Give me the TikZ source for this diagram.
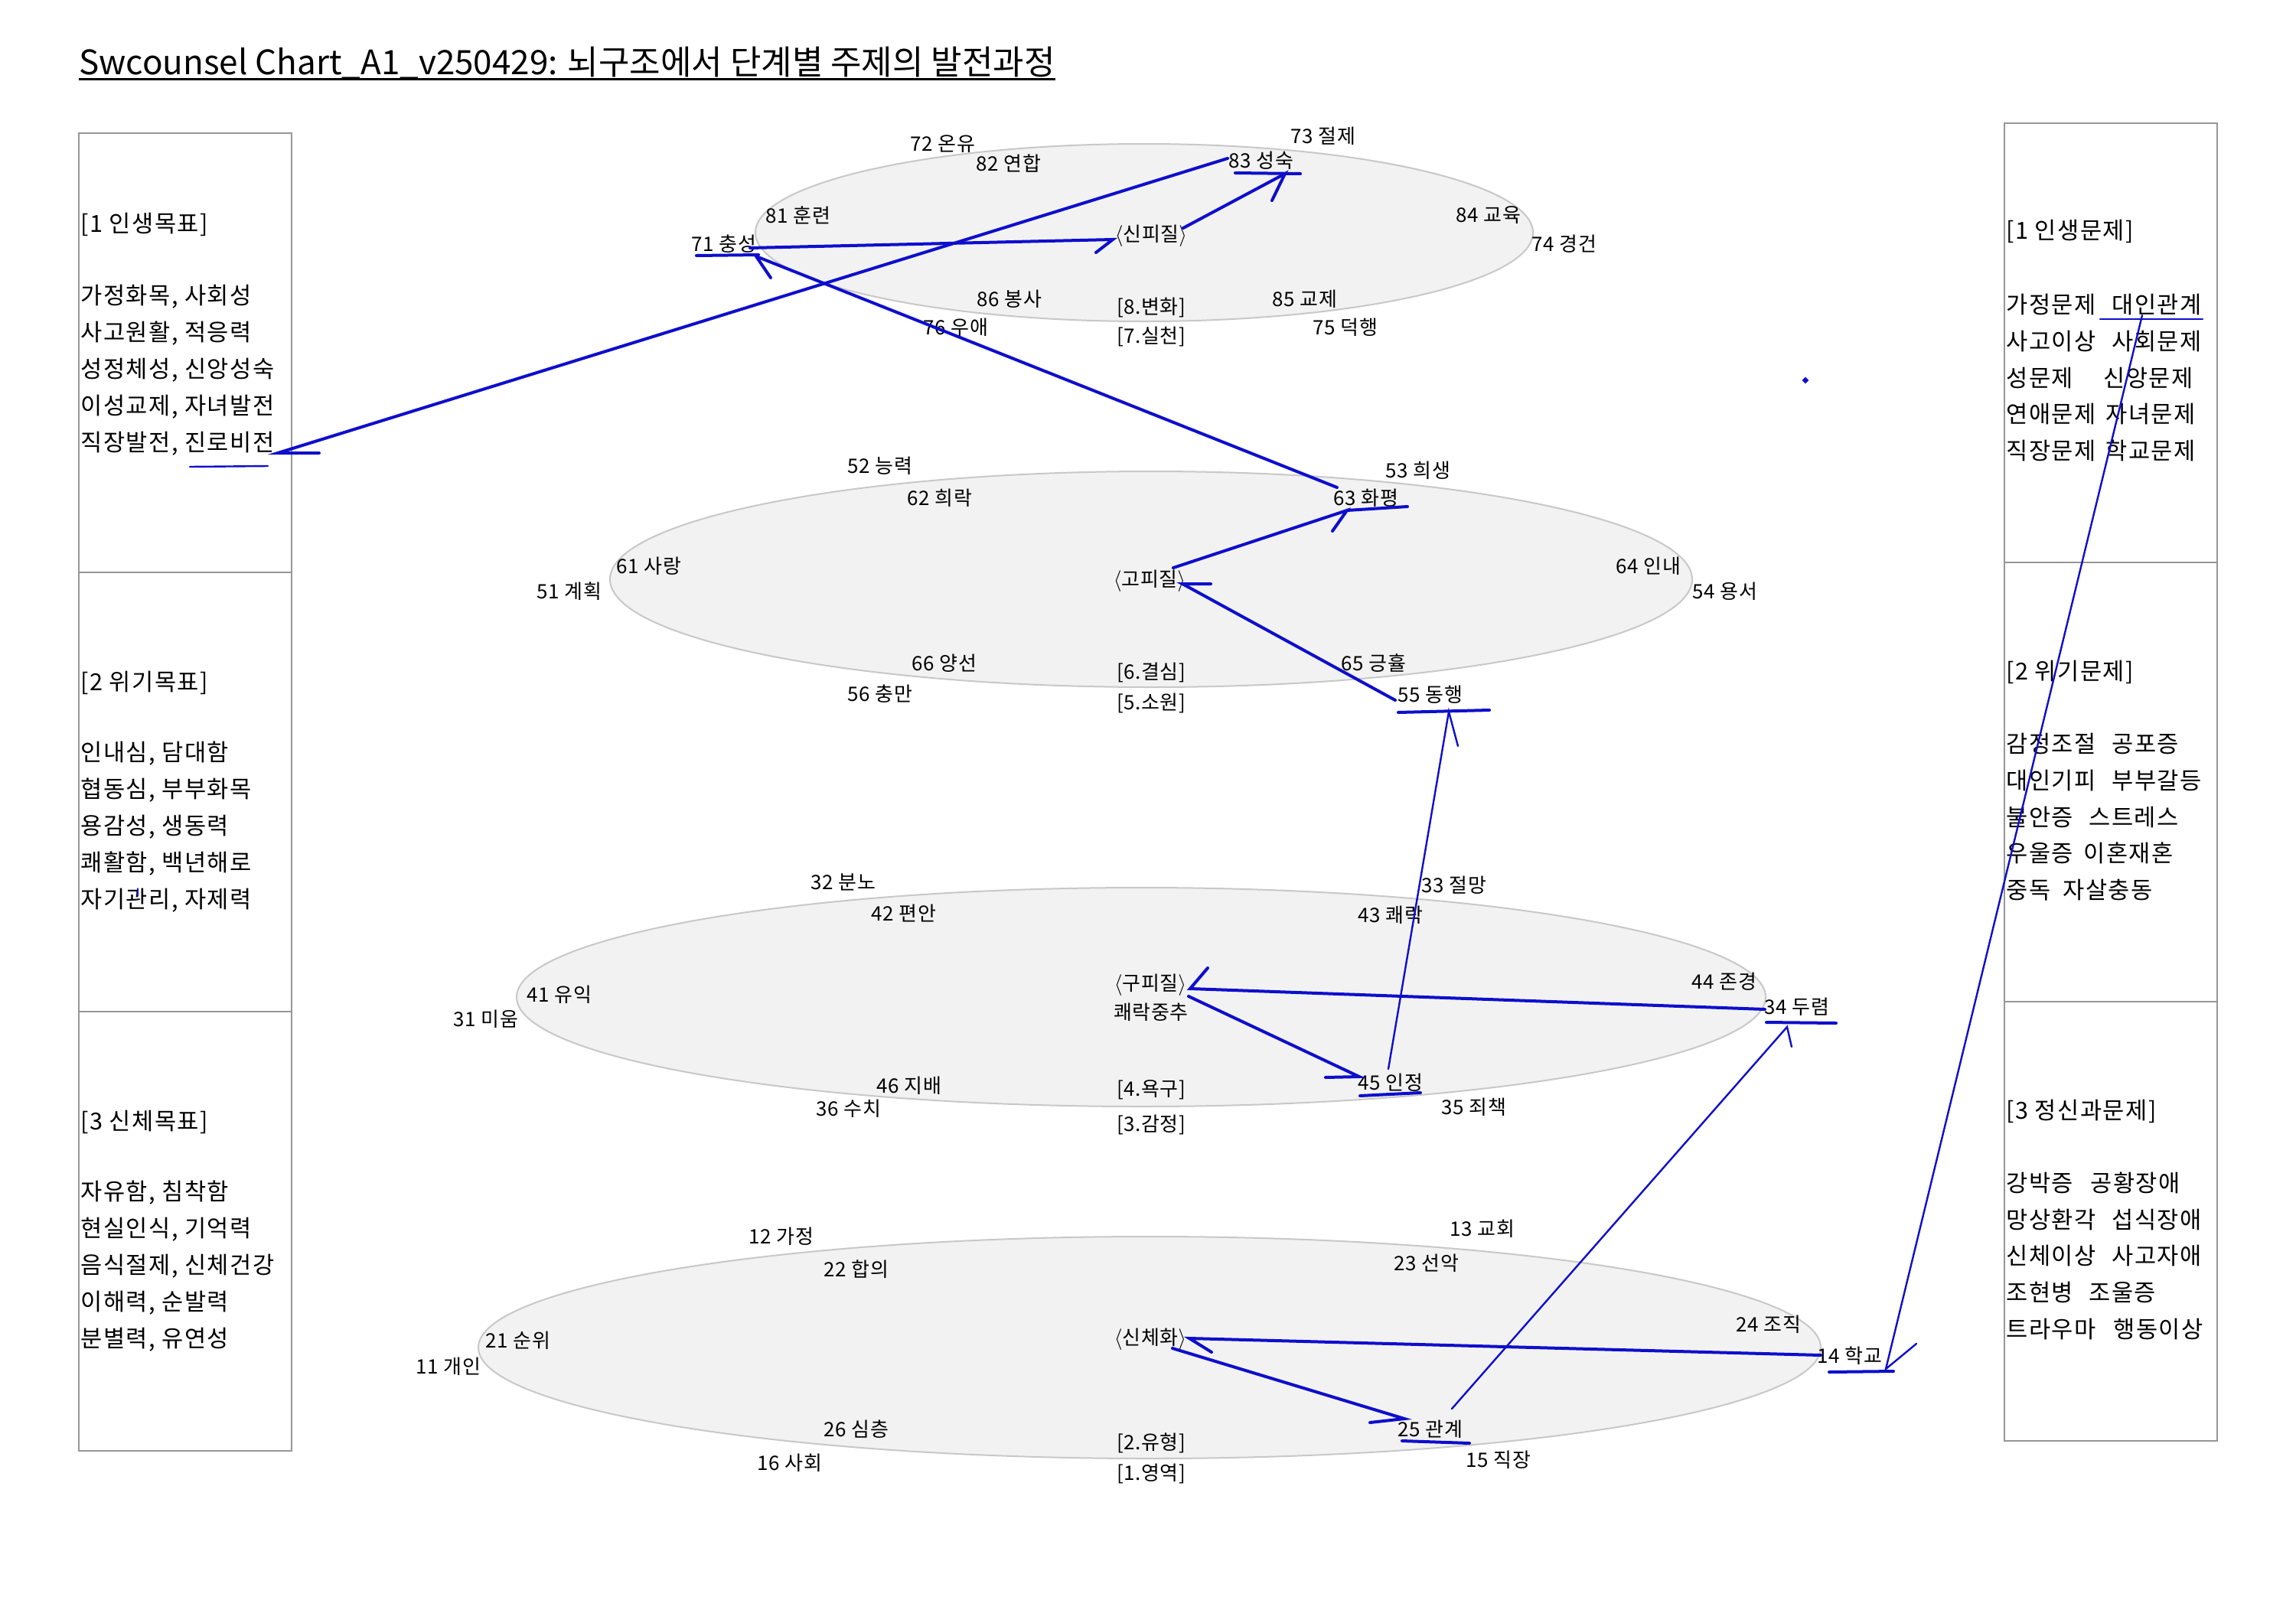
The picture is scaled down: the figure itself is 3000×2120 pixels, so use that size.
\documentclass[tikz,border=0pt]{standalone}
\usepackage{fontspec}
\setmainfont{Noto Sans CJK KR}
\newfontfamily\boxfont[LetterSpace=5]{Noto Sans CJK KR}
\newfontfamily\lblfont[LetterSpace=2]{Noto Sans CJK KR}
\definecolor{pen}{RGB}{14,14,205}
\definecolor{ellfill}{RGB}{242,242,242}
\definecolor{elldraw}{RGB}{200,200,200}
\definecolor{boxline}{RGB}{150,150,150}
\begin{document}
\begin{tikzpicture}[x=0.75pt,y=-0.75pt,
  lbl/.style={inner sep=0pt, font=\lblfont\fontsize{19.5pt}{22pt}\selectfont},
  boxtxt/.style={inner sep=0pt, anchor=west, font=\boxfont\fontsize{23pt}{26pt}\selectfont},
  ring/.style={fill=ellfill, draw=elldraw, line width=1.5pt},
  frame/.style={draw=boxline, line width=2pt},
  divider/.style={draw=boxline, line width=1pt},
  pen/.style={draw=pen, line width=3pt, line cap=round},
  thinpen/.style={draw=pen, line width=1.8pt, line cap=round}]
\useasboundingbox (0,0) rectangle (3000,2120);
\fill[white] (0,0) rectangle (3000,2120);

% title
\node[anchor=west, inner sep=0pt, font=\fontsize{33pt}{36pt}\selectfont] (title) at (103,82)
  {Swcounsel Chart\_A1\_v250429: 뇌구조에서 단계별 주제의 발전과정};
\coordinate (tu1) at ([yshift=-5pt]title.base west);
\coordinate (tu2) at ([yshift=-5pt]title.base east);
\draw[line width=2pt] (tu1) -- (tu2);

% ellipses
\path[ring] (1495,304) ellipse [x radius=381pt, y radius=87pt];
\path[ring] (1504,757) ellipse [x radius=530.25pt, y radius=105.75pt];
\path[ring] (1491,1303) ellipse [x radius=612pt, y radius=107.25pt];
\path[ring] (1502,1761) ellipse [x radius=657.75pt, y radius=108.75pt];

% side boxes
\draw[frame] (103,174) rectangle (381,1896);
\draw[divider] (103,748) -- (381,748);
\draw[divider] (103,1322) -- (381,1322);
\draw[frame] (2619,161) rectangle (2897,1883);
\draw[divider] (2619,735) -- (2897,735);
\draw[divider] (2619,1309) -- (2897,1309);

% left box texts
\node[boxtxt] (lh1) at (105,293) {[1 인생목표]};
\node[boxtxt] (l1a) at (105,388) {가정화목, 사회성};
\node[boxtxt] (l1b) at (105,436) {사고원활, 적응력};
\node[boxtxt] (l1c) at (105,484) {성정체성, 신앙성숙};
\node[boxtxt] (l1d) at (105,532) {이성교제, 자녀발전};
\node[boxtxt] (l1e) at (105,580) {직장발전, 진로비전};
\node[boxtxt] (lh2) at (105,892) {[2 위기목표]};
\node[boxtxt] (l2a) at (105,985) {인내심, 담대함};
\node[boxtxt] (l2b) at (105,1033) {협동심, 부부화목};
\node[boxtxt] (l2c) at (105,1081) {용감성, 생동력};
\node[boxtxt] (l2d) at (105,1129) {쾌활함, 백년해로};
\node[boxtxt] (l2e) at (105,1177) {자기관리, 자제력};
\node[boxtxt] (lh3) at (105,1466) {[3 신체목표]};
\node[boxtxt] (l3a) at (105,1559) {자유함, 침착함};
\node[boxtxt] (l3b) at (105,1607) {현실인식, 기억력};
\node[boxtxt] (l3c) at (105,1655) {음식절제, 신체건강};
\node[boxtxt] (l3d) at (105,1703) {이해력, 순발력};
\node[boxtxt] (l3e) at (105,1751) {분별력, 유연성};

% right box texts
\node[boxtxt] (rh1) at (2621,302) {[1 인생문제]};
\node[boxtxt] (r1a) at (2621,398) {\makebox[103.5pt][l]{가정문제}대인관계};
\node[boxtxt] (r1b) at (2621,446) {\makebox[103.5pt][l]{사고이상}사회문제};
\node[boxtxt] (r1c) at (2621,494) {\makebox[95.25pt][l]{성문제}신앙문제};
\node[boxtxt] (r1d) at (2621,541) {\makebox[97.5pt][l]{연애문제}자녀문제};
\node[boxtxt] (r1e) at (2621,589) {\makebox[97.5pt][l]{직장문제}학교문제};
\node[boxtxt] (rh2) at (2621,878) {[2 위기문제]};
\node[boxtxt] (r2a) at (2621,972) {\makebox[103.5pt][l]{감정조절}공포증};
\node[boxtxt] (r2b) at (2621,1020) {\makebox[103.5pt][l]{대인기피}부부갈등};
\node[boxtxt] (r2c) at (2621,1068) {\makebox[81pt][l]{불안증}스트레스};
\node[boxtxt] (r2d) at (2621,1115) {\makebox[75.75pt][l]{우울증}이혼재혼};
\node[boxtxt] (r2e) at (2621,1163) {\makebox[55.5pt][l]{중독}자살충동};
\node[boxtxt] (rh3) at (2621,1452) {[3 정신과문제]};
\node[boxtxt] (r3a) at (2621,1546) {\makebox[82.5pt][l]{강박증}공황장애};
\node[boxtxt] (r3b) at (2621,1594) {\makebox[103.5pt][l]{망상환각}섭식장애};
\node[boxtxt] (r3c) at (2621,1641) {\makebox[103.5pt][l]{신체이상}사고자애};
\node[boxtxt] (r3d) at (2621,1689) {\makebox[81pt][l]{조현병}조울증};
\node[boxtxt] (r3e) at (2621,1737) {\makebox[105pt][l]{트라우마}행동이상};

% ellipse labels
\foreach \n/\x/\y/\t in {
  n72/1232/188/72 온유, n82/1318/213/82 연합, n73/1729/178/73 절제, n83/1648/210/83 성숙,
  n81/1043/281/81 훈련, n71/946/319/71 충성, cs/1504/308/$\langle$신피질$\rangle$,
  n84/1945/281/84 교육, n74/2044/319/74 경건, n86/1319/391/86 봉사, s8/1504/402/[8.변화],
  n85/1705/391/85 교제, n76/1249/428/76 우애, s7/1504/440/[7.실천], n75/1758/428/75 덕행,
  n52/1150/609/52 능력, n53/1853/615/53 희생, n62/1228/651/62 희락, n63/1785/651/63 화평,
  n61/848/740/61 사랑, n51/744/773/51 계획, cg/1502/759/$\langle$고피질$\rangle$,
  n64/2154/740/64 인내, n54/2254/773/54 용서, n66/1234/867/66 양선, s6/1504/879/[6.결심],
  n65/1795/867/65 긍휼, n56/1150/907/56 충만, s5/1504/919/[5.소원], n55/1869/908/55 동행,
  n32/1102/1153/32 분노, n33/1900/1157/33 절망, n42/1181/1193/42 편안, n43/1817/1196/43 쾌락,
  n41/731/1300/41 유익, n31/635/1332/31 미움, cgu/1503/1287/$\langle$구피질$\rangle$,
  pc/1504/1323/쾌락중추, n44/2253/1283/44 존경, n34/2348/1316/34 두렴,
  n46/1188/1419/46 지배, s4/1504/1424/[4.욕구], n45/1817/1415/45 인정,
  n36/1109/1449/36 수치, s3/1504/1470/[3.감정], n35/1926/1447/35 죄책,
  n12/1021/1616/12 가정, n13/1937/1606/13 교회, n22/1119/1659/22 합의, n23/1864/1651/23 선악,
  n21/677/1752/21 순위, n11/586/1786/11 개인, csc/1503/1750/$\langle$신체화$\rangle$,
  n24/2311/1731/24 조직, n14/2417/1772/14 학교, n26/1119/1868/26 심층, s2/1504/1886/[2.유형],
  n25/1869/1868/25 관계, n16/1032/1912/16 사회, s1/1504/1926/[1.영역], n15/1958/1908/15 직장}
  {\node[lbl] (\n) at (\x,\y) {\t};}

% connector end points
\coordinate (jvTip) at (363,592);   \coordinate (jvBarb) at (417,592);
\coordinate (jvU1) at (248,610);    \coordinate (jvU2) at (350,609);
\coordinate (a83L) at (1604,207);
\coordinate (csOut) at (1546,298);  \coordinate (a83In) at (1679,227);
\coordinate (a83Barb) at (1662,262);
\coordinate (u83a) at (1614,226);   \coordinate (u83b) at (1699,227);
\coordinate (a71Out) at (980,324);  \coordinate (csIn) at (1454,313);
\coordinate (csBarb) at (1432,330);
\coordinate (u71a) at (910,334);    \coordinate (u71b) at (991,333);
\coordinate (a63Out) at (1747,637); \coordinate (a71In) at (988,335);
\coordinate (a71Barb) at (1007,363);
\coordinate (cgOut) at (1533,742);  \coordinate (a63In) at (1760,667);
\coordinate (a63Barb) at (1741,694);\coordinate (u63b) at (1839,662);
\coordinate (a55Out) at (1823,915); \coordinate (cgIn) at (1545,763);
\coordinate (cgBarb) at (1582,763);
\coordinate (a45Up) at (1814,1397); \coordinate (a55In) at (1893,930);
\coordinate (a55Barb) at (1905,975);
\coordinate (u55a) at (1827,931);   \coordinate (u55b) at (1946,928);
\coordinate (a34Out) at (2306,1319);\coordinate (cguIn) at (1555,1292);
\coordinate (cguBarb) at (1578,1265);
\coordinate (cguOut) at (1553,1302);\coordinate (a45In) at (1776,1407);
\coordinate (a45Barb) at (1732,1408);
\coordinate (u45a) at (1777,1432);  \coordinate (u45b) at (1856,1428);
\coordinate (a25Up) at (1897,1841); \coordinate (a34In) at (2335,1342);
\coordinate (a34Barb) at (2341,1368);
\coordinate (u34a) at (2308,1336);  \coordinate (u34b) at (2399,1337);
\coordinate (a14Out) at (2379,1771);\coordinate (cscIn) at (1554,1749);
\coordinate (cscBarb) at (1583,1767);
\coordinate (cscOut) at (1532,1762);\coordinate (a25In) at (1835,1854);
\coordinate (a25Barb) at (1790,1859);
\coordinate (u25a) at (1832,1883);  \coordinate (u25b) at (1920,1886);
\coordinate (diOut) at (2799,412);  \coordinate (a14In) at (2464,1789);
\coordinate (a14Barb) at (2504,1756);
\coordinate (u14a) at (2390,1793);  \coordinate (u14b) at (2474,1792);
\coordinate (udia) at (2744,417);   \coordinate (udib) at (2878,417);

% connectors
\draw[pen] (a83L) -- (jvTip) -- (jvBarb);
\draw[thinpen] (jvU1) -- (jvU2);
\draw[pen] (csOut) -- (a83In) -- (a83Barb);
\draw[pen] (u83a) -- (u83b);
\draw[pen] (a71Out) -- (csIn) -- (csBarb);
\draw[pen] (u71a) -- (u71b);
\draw[pen] (a63Out) -- (a71In) -- (a71Barb);
\draw[pen] (cgOut) -- (a63In) -- (a63Barb);
\draw[pen] (a63In) -- (u63b);
\draw[pen] (a55Out) -- (cgIn) -- (cgBarb);
\draw[thinpen] (a45Up) -- (a55In) -- (a55Barb);
\draw[pen] (u55a) -- (u55b);
\draw[pen] (a34Out) -- (cguIn) -- (cguBarb);
\draw[pen] (cguOut) -- (a45In) -- (a45Barb);
\draw[pen] (u45a) -- (u45b);
\draw[thinpen] (a25Up) -- (a34In) -- (a34Barb);
\draw[pen] (u34a) -- (u34b);
\draw[pen] (a14Out) -- (cscIn) -- (cscBarb);
\draw[pen] (cscOut) -- (a25In) -- (a25Barb);
\draw[pen] (u25a) -- (u25b);
\draw[thinpen] (diOut) -- (a14In) -- (a14Barb);
\draw[pen] (u14a) -- (u14b);
\draw[thinpen] (udia) -- (udib);

% stray marks
\fill[pen] (2359,497) circle (1.2pt);
\draw[pen, line width=1pt] (180,1161) -- (180,1171);
\end{tikzpicture}
\end{document}
